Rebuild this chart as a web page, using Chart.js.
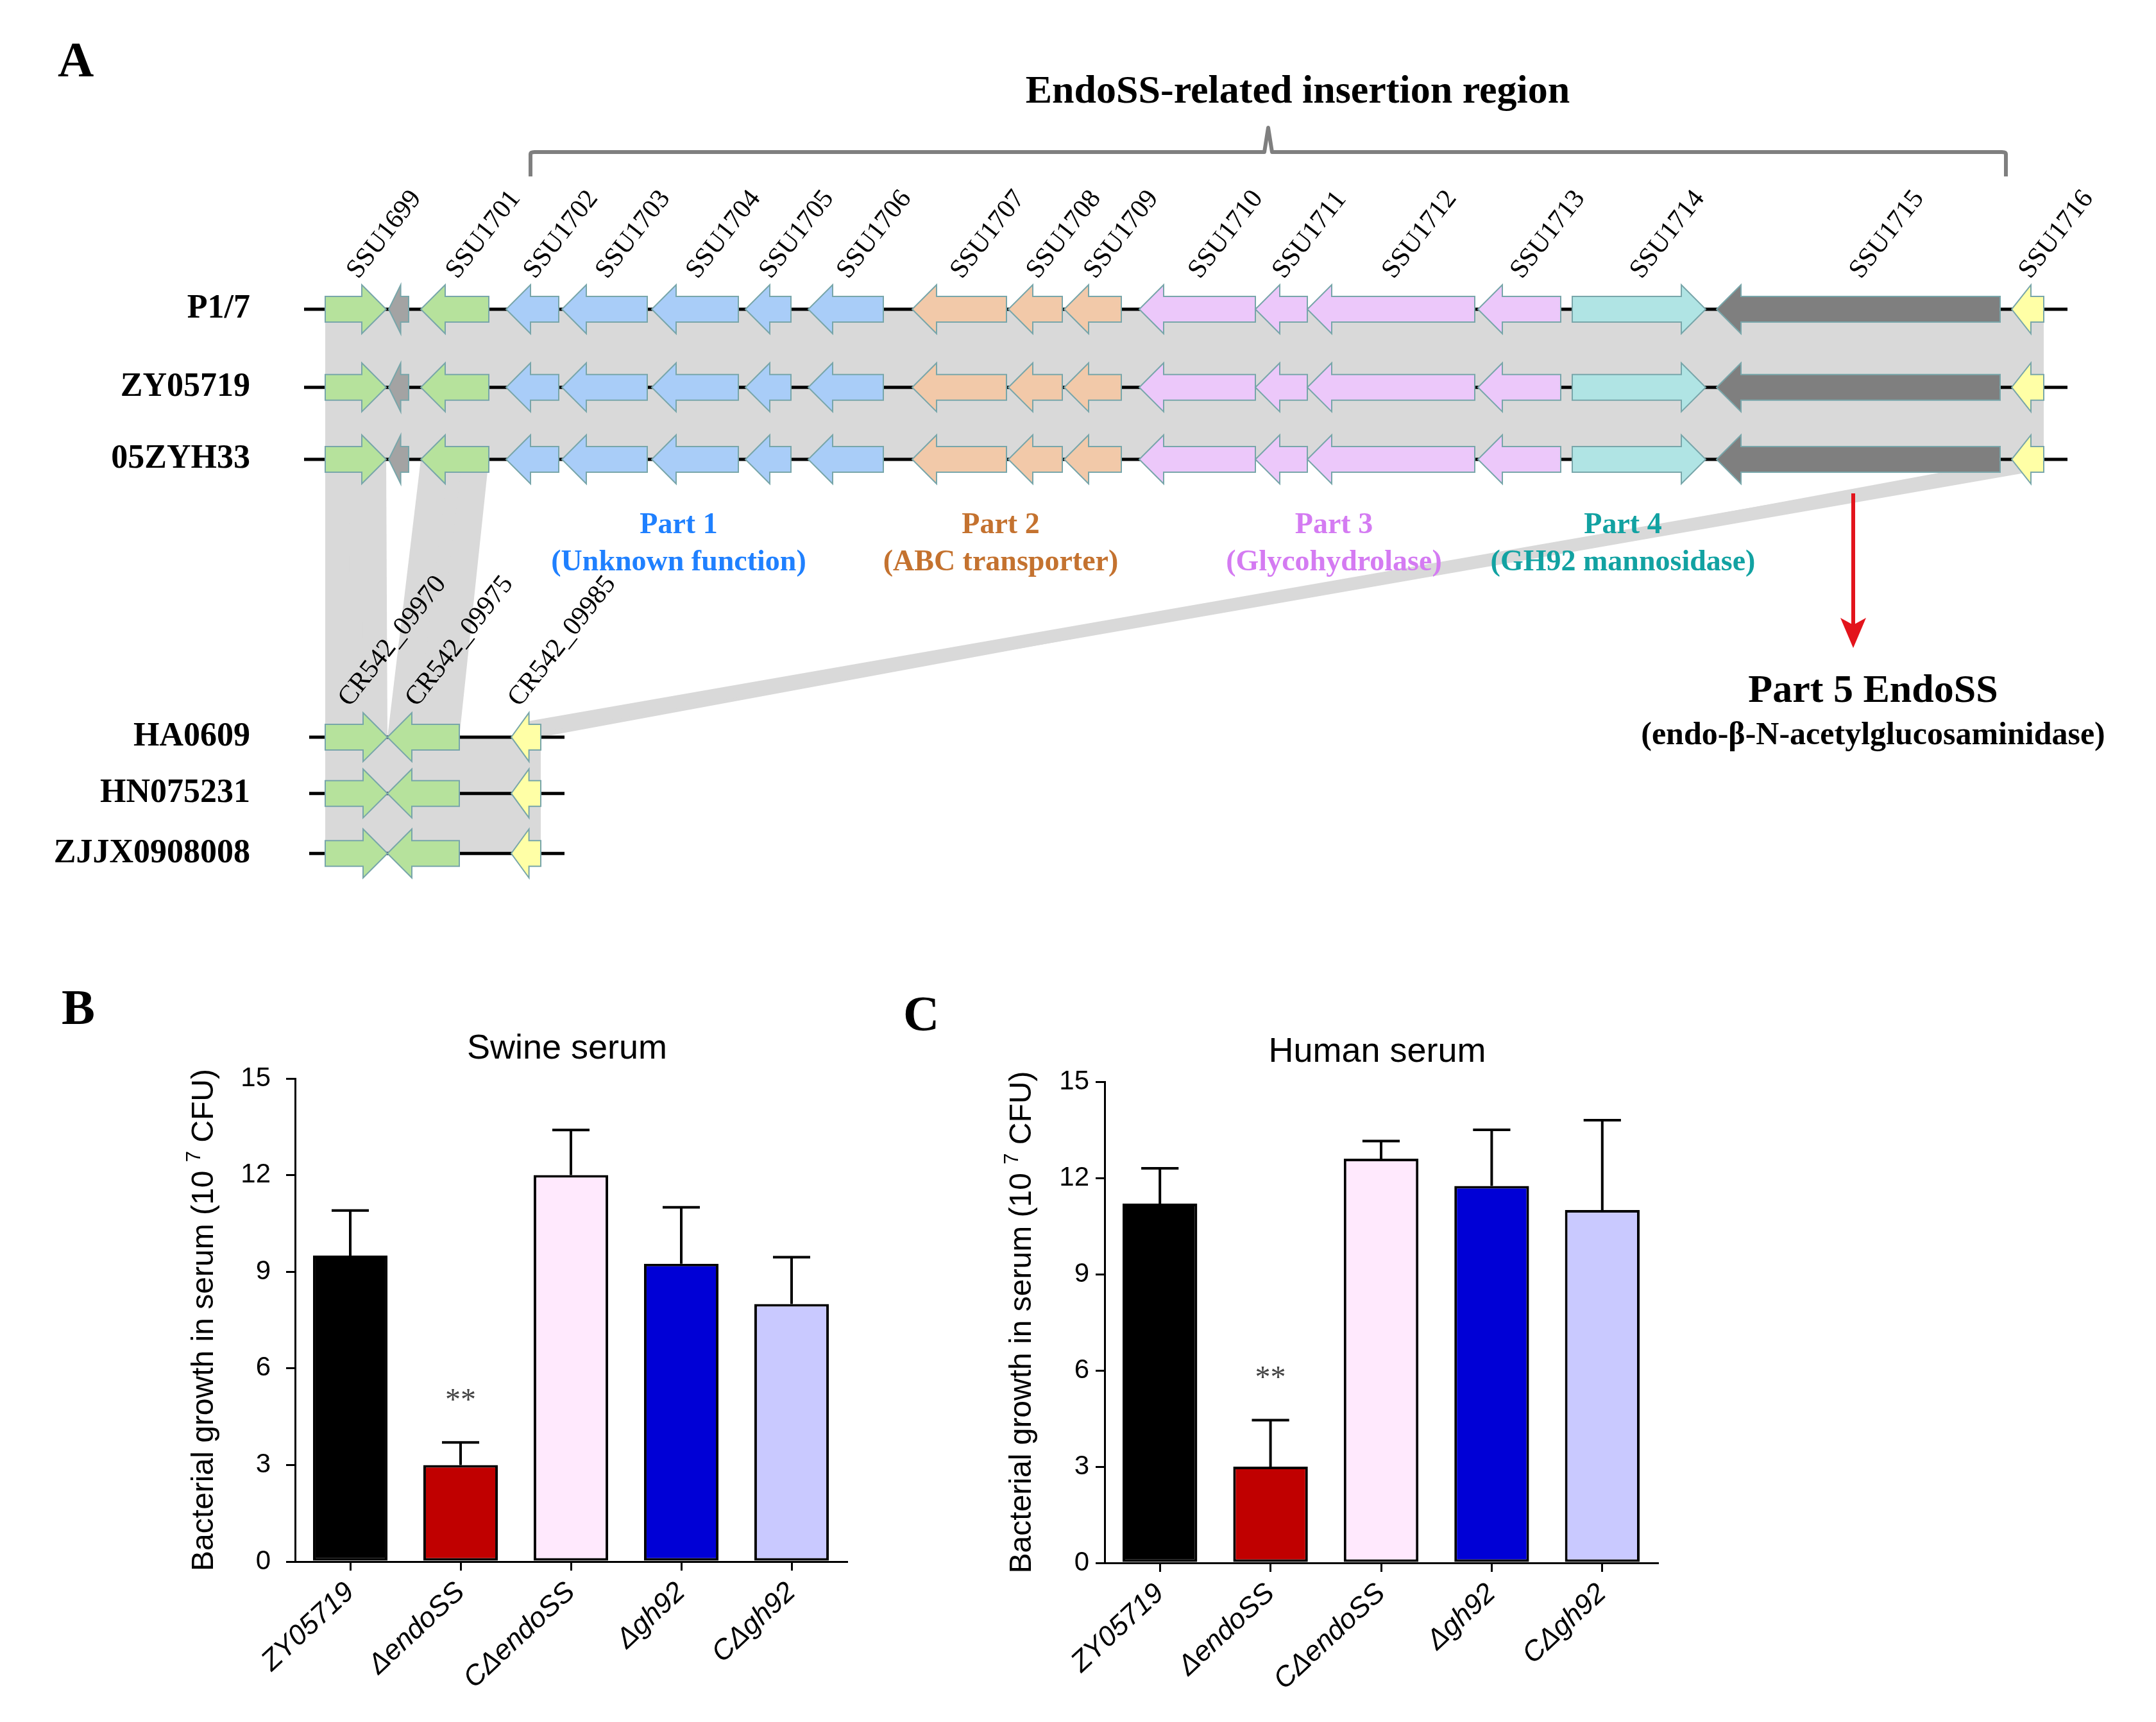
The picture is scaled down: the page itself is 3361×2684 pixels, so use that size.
<!DOCTYPE html>
<html>
<head>
<meta charset="utf-8">
<script src="https://cdn.jsdelivr.net/npm/chart.js@4.4.1/dist/chart.umd.min.js"></script>
<style>
    html, body { margin: 0; padding: 0; background: #fff; }
    body { width: 3361px; height: 2684px; position: relative; overflow: hidden; }
    canvas { position: absolute; }
    .tag { position: absolute; font: bold 78px 'Liberation Serif', serif; line-height: 1; color: #000; }
</style>
</head>
<body>
<div class="tag" style="left:90px; top:54px;">A</div>
<div class="tag" style="left:96px; top:1531px;">B</div>
<div class="tag" style="left:1408px; top:1541px;">C</div>

<canvas id="mapChart" width="3361" height="1400" style="left:0; top:0;"></canvas>
<canvas id="swineChart" width="1400" height="1184" style="left:0; top:1500px;"></canvas>
<canvas id="humanChart" width="1300" height="1184" style="left:1400px; top:1500px;"></canvas>

<script>
// ---- Panel A data (positions in kb from the start of SSU1699) ----
const strains = ['P1/7', 'ZY05719', '05ZYH33', 'HA0609', 'HN075231', 'ZJJX0908008'];

const geneNames  = ['SSU1699', '', 'SSU1701', 'SSU1702', 'SSU1703', 'SSU1704', 'SSU1705', 'SSU1706',
                    'SSU1707', 'SSU1708', 'SSU1709', 'SSU1710', 'SSU1711', 'SSU1712', 'SSU1713',
                    'SSU1714', 'SSU1715', 'SSU1716'];
const geneStart  = [0.00, 0.99, 1.49, 2.82, 3.69, 5.09, 6.55, 7.53, 9.15, 10.65, 11.52, 12.69, 14.50, 15.31, 17.97, 19.44, 21.69, 26.29];
const geneEnd    = [0.95, 1.30, 2.55, 3.64, 5.02, 6.44, 7.26, 8.70, 10.62, 11.49, 12.41, 14.50, 15.31, 17.92, 19.26, 21.52, 26.11, 26.79];
const geneStrand = [1, -1, -1, -1, -1, -1, -1, -1, -1, -1, -1, -1, -1, -1, -1, 1, -1, -1];
const geneGroup  = ['flank', 'small', 'flank', 'p1', 'p1', 'p1', 'p1', 'p1', 'p2', 'p2', 'p2',
                    'p3', 'p3', 'p3', 'p3', 'p4', 'p5', 'tail'];

const shortNames  = ['CR542_09970', 'CR542_09975', 'CR542_09985'];
const shortStart  = [0.00, 0.97, 2.90];
const shortEnd    = [0.97, 2.09, 3.36];
const shortStrand = [1, -1, -1];
const shortGroup  = ['flank', 'flank', 'tail'];

const backboneLong  = [-0.33, 27.16];
const backboneShort = [-0.25, 3.73];

const links = [['SSU1699', 'CR542_09970'], ['SSU1701', 'CR542_09975'], ['SSU1716', 'CR542_09985']];
const insertionRegion = [3.2, 26.2];

const partGroups = ['p1', 'p2', 'p3', 'p4'];
const partTitles = ['Part 1', 'Part 2', 'Part 3', 'Part 4'];
const partDescs  = ['(Unknown function)', '(ABC transporter)', '(Glycohydrolase)', '(GH92 mannosidase)'];

// ---- Panels B / C data ----
const mutants   = ['ZY05719', 'ΔendoSS', 'CΔendoSS', 'Δgh92', 'CΔgh92'];
const swineMean = [9.5, 3.0, 12.0, 9.25, 8.0];
const swineSD   = [1.4, 0.7, 1.4, 1.75, 1.45];
const humanMean = [11.2, 3.0, 12.6, 11.75, 11.0];
const humanSD   = [1.1, 1.45, 0.55, 1.75, 2.8];
const yTicks    = [0, 3, 6, 9, 12, 15];

// ---- layout / style ----
const trackPos = [0, 1.04, 2.0, 5.7, 6.45, 7.25];   // vertical placement of the strain rows
const groupFill = {
    flank: '#b6e29c', small: '#a3a3a3', p1: '#a9cdf8', p2: '#f2c9a9', p3: '#ecc8fa',
    p4: '#b0e4e4', p5: '#7f7f7f', tail: '#ffffa6'
};
const partColor = { p1: '#1f80ff', p2: '#c4722f', p3: '#d47bf2', p4: '#12a2a2' };
const barColors = ['#000000', '#c00000', '#ffe9fd', '#0000d6', '#c9c9ff'];

function drawGene(ctx, x1, x2, y, strand, fill) {
    const bh = 20, hh = 38;
    const hl = Math.min(38, (x2 - x1) * 0.6);
    ctx.beginPath();
    if (strand > 0) {
        ctx.moveTo(x1, y - bh); ctx.lineTo(x2 - hl, y - bh); ctx.lineTo(x2 - hl, y - hh);
        ctx.lineTo(x2, y); ctx.lineTo(x2 - hl, y + hh); ctx.lineTo(x2 - hl, y + bh); ctx.lineTo(x1, y + bh);
    } else {
        ctx.moveTo(x2, y - bh); ctx.lineTo(x1 + hl, y - bh); ctx.lineTo(x1 + hl, y - hh);
        ctx.lineTo(x1, y); ctx.lineTo(x1 + hl, y + hh); ctx.lineTo(x1 + hl, y + bh); ctx.lineTo(x2, y + bh);
    }
    ctx.closePath();
    ctx.fillStyle = fill;
    ctx.fill();
    ctx.lineWidth = 2;
    ctx.strokeStyle = '#78a6aa';
    ctx.stroke();
}

function geneLabel(ctx, text, cx, y) {
    ctx.save();
    ctx.translate(cx + 4, y - 46);
    ctx.rotate(-52 * Math.PI / 180);
    ctx.font = '42px "Liberation Serif"';
    ctx.fillStyle = '#000';
    ctx.textAlign = 'left';
    ctx.textBaseline = 'alphabetic';
    ctx.fillText(text, 0, 0);
    ctx.restore();
}

const geneMap = {
    id: 'geneMap',
    beforeDatasetsDraw(chart) {
        const ctx = chart.ctx, x = chart.scales.x, y = chart.scales.y;
        const row = i => y.getPixelForValue(trackPos[i]);
        ctx.save();
        ctx.fillStyle = '#d9d9d9';
        ctx.strokeStyle = '#d9d9d9';
        // shared block of the three complete genomes
        let a = x.getPixelForValue(Math.min(...geneStart)), b = x.getPixelForValue(Math.max(...geneEnd));
        ctx.fillRect(a, row(0), b - a, row(2) - row(0));
        // shared block of the three short genomes
        a = x.getPixelForValue(Math.min(...shortStart)); b = x.getPixelForValue(Math.max(...shortEnd));
        ctx.fillRect(a, row(3), b - a, row(5) - row(3));
        // homology links 05ZYH33 -> HA0609
        links.forEach(([g1, g2]) => {
            const i = geneNames.indexOf(g1), j = shortNames.indexOf(g2);
            const ax1 = x.getPixelForValue(geneStart[i]), ax2 = x.getPixelForValue(geneEnd[i]);
            const bx1 = x.getPixelForValue(shortStart[j]), bx2 = x.getPixelForValue(shortEnd[j]);
            ctx.beginPath();
            ctx.moveTo(ax1, row(2)); ctx.lineTo(ax2, row(2)); ctx.lineTo(bx2, row(3)); ctx.lineTo(bx1, row(3));
            ctx.closePath();
            ctx.fill();
            ctx.lineWidth = 20;
            ctx.beginPath();
            ctx.moveTo((ax1 + ax2) / 2, row(2) + 10);
            ctx.lineTo((bx1 + bx2) / 2, row(3) - 14);
            ctx.stroke();
        });
        ctx.restore();
    },
    afterDatasetsDraw(chart) {
        const ctx = chart.ctx, x = chart.scales.x, y = chart.scales.y;
        const row = i => y.getPixelForValue(trackPos[i]);
        ctx.save();
        // strain names
        ctx.fillStyle = '#000';
        ctx.font = 'bold 52px "Liberation Serif"';
        ctx.textAlign = 'right';
        ctx.textBaseline = 'middle';
        strains.forEach((s, i) => ctx.fillText(s, 390, row(i)));

        for (let r = 0; r < 3; r++) {
            geneNames.forEach((n, i) => {
                drawGene(ctx, x.getPixelForValue(geneStart[i]), x.getPixelForValue(geneEnd[i]), row(r), geneStrand[i], groupFill[geneGroup[i]]);
            });
        }
        for (let r = 3; r < 6; r++) {
            shortNames.forEach((n, i) => {
                drawGene(ctx, x.getPixelForValue(shortStart[i]), x.getPixelForValue(shortEnd[i]), row(r), shortStrand[i], groupFill[shortGroup[i]]);
            });
        }
        geneNames.forEach((n, i) => {
            if (n) geneLabel(ctx, n, x.getPixelForValue((geneStart[i] + geneEnd[i]) / 2), row(0));
        });
        shortNames.forEach((n, i) => {
            geneLabel(ctx, n, x.getPixelForValue((shortStart[i] + shortEnd[i]) / 2) - 14, row(3));
        });

        // bracket over the insertion region
        const l = x.getPixelForValue(insertionRegion[0]), rr = x.getPixelForValue(insertionRegion[1]);
        const m = (l + rr) / 2, top = row(0);
        ctx.strokeStyle = '#7f7f7f';
        ctx.lineWidth = 6;
        ctx.lineJoin = 'round';
        ctx.beginPath();
        ctx.moveTo(l, top - 207); ctx.lineTo(l, top - 242); ctx.quadraticCurveTo(l, top - 245, l + 6, top - 245);
        ctx.lineTo(m - 6, top - 245); ctx.lineTo(m, top - 283); ctx.lineTo(m + 6, top - 245);
        ctx.lineTo(rr - 6, top - 245); ctx.quadraticCurveTo(rr, top - 245, rr, top - 242); ctx.lineTo(rr, top - 207);
        ctx.stroke();
        ctx.fillStyle = '#000';
        ctx.font = 'bold 62px "Liberation Serif"';
        ctx.textAlign = 'center';
        ctx.textBaseline = 'middle';
        ctx.fillText('EndoSS-related insertion region', m + 46, top - 338);

        // part labels under the gene groups
        const low = row(2);
        partGroups.forEach((g, k) => {
            const idx = geneGroup.map((v, i) => v === g ? i : -1).filter(i => i >= 0);
            const c = (x.getPixelForValue(Math.min(...idx.map(i => geneStart[i]))) +
                       x.getPixelForValue(Math.max(...idx.map(i => geneEnd[i])))) / 2 - 25;
            ctx.fillStyle = partColor[g];
            ctx.font = 'bold 46px "Liberation Serif"';
            ctx.fillText(partTitles[k], c, low + 103);
            ctx.fillText(partDescs[k], c, low + 161);
        });

        // red arrow to EndoSS
        const e = geneNames.indexOf('SSU1715');
        const ex = x.getPixelForValue((geneStart[e] + geneEnd[e]) / 2) - 8;
        ctx.strokeStyle = '#e3141c';
        ctx.fillStyle = '#e3141c';
        ctx.lineWidth = 6;
        ctx.beginPath();
        ctx.moveTo(ex, low + 53); ctx.lineTo(ex, low + 270);
        ctx.stroke();
        ctx.beginPath();
        ctx.moveTo(ex, low + 294); ctx.lineTo(ex - 20, low + 247); ctx.lineTo(ex, low + 258); ctx.lineTo(ex + 20, low + 247);
        ctx.closePath();
        ctx.fill();
        ctx.fillStyle = '#000';
        ctx.font = 'bold 62px "Liberation Serif"';
        ctx.fillText('Part 5 EndoSS', ex + 31, low + 362);
        ctx.font = 'bold 50px "Liberation Serif"';
        ctx.fillText('(endo-β-N-acetylglucosaminidase)', ex + 31, low + 431);
        ctx.restore();
    }
};

let mapCtx = document.getElementById('mapChart').getContext('2d');
let mapChart = new Chart(mapCtx, {
    type: 'scatter',
    data: {
        datasets: strains.map((s, i) => {
            const bb = i < 3 ? backboneLong : backboneShort;
            return {
                label: s,
                data: [{ x: bb[0], y: trackPos[i] }, { x: bb[1], y: trackPos[i] }],
                showLine: true,
                borderColor: '#000',
                borderWidth: 5,
                pointRadius: 0
            };
        })
    },
    options: {
        responsive: false,
        animation: false,
        layout: { padding: 0 },
        plugins: { legend: { display: false }, tooltip: { enabled: false } },
        scales: {
            x: { type: 'linear', min: -5.07, max: 28.54, display: false },
            y: { type: 'linear', reverse: true, min: -4.12, max: 7.846, display: false }
        }
    },
    plugins: [geneMap]
});

// ---- bar charts ----
function barDecor(title, means, sds, yTitleX) {
    return {
        id: 'barDecor',
        afterDatasetsDraw(chart) {
            const ctx = chart.ctx, area = chart.chartArea, y = chart.scales.y;
            const meta = chart.getDatasetMeta(0);
            ctx.save();
            ctx.strokeStyle = '#000';
            ctx.lineWidth = 4;
            meta.data.forEach((bar, i) => {
                const top = y.getPixelForValue(means[i] + sds[i]);
                const w = bar.width / 4;
                ctx.beginPath();
                ctx.moveTo(bar.x, bar.y); ctx.lineTo(bar.x, top);
                ctx.moveTo(bar.x - w, top); ctx.lineTo(bar.x + w, top);
                ctx.stroke();
            });
            // significance mark on the deletion mutant
            const b = meta.data[1];
            ctx.fillStyle = '#444';
            ctx.font = '48px "Liberation Serif"';
            ctx.textAlign = 'center';
            ctx.textBaseline = 'middle';
            ctx.fillText('**', b.x, y.getPixelForValue(means[1] + sds[1] + 1.4) + 6);

            ctx.fillStyle = '#000';
            ctx.font = '54px "Liberation Sans"';
            ctx.fillText(title, (area.left + area.right) / 2 - 6, area.top - 46);

            // y axis title with superscript
            ctx.translate(yTitleX, (area.top + area.bottom) / 2);
            ctx.rotate(-Math.PI / 2);
            const p1 = 'Bacterial growth in serum (10 ', p2 = '7', p3 = ' CFU)';
            const big = '48px "Liberation Sans"', small = '31px "Liberation Sans"';
            ctx.font = big; const w1 = ctx.measureText(p1).width, w3 = ctx.measureText(p3).width;
            ctx.font = small; const w2 = ctx.measureText(p2).width;
            let sx = -(w1 + w2 + w3) / 2;
            ctx.textAlign = 'left';
            ctx.textBaseline = 'alphabetic';
            ctx.font = big; ctx.fillText(p1, sx, 17);
            ctx.font = small; ctx.fillText(p2, sx + w1, -3);
            ctx.font = big; ctx.fillText(p3, sx + w1 + w2, 17);
            ctx.restore();
        }
    };
}

function barConfig(means, sds, title, pad, yWidth, xHeight, tickPad, yTitleX) {
    return {
        type: 'bar',
        data: {
            labels: mutants,
            datasets: [{
                data: means,
                backgroundColor: barColors,
                borderColor: '#000',
                borderWidth: 4,
                borderSkipped: false,
                barPercentage: 0.675,
                categoryPercentage: 1
            }]
        },
        options: {
            responsive: false,
            animation: false,
            layout: { padding: pad },
            plugins: { legend: { display: false }, tooltip: { enabled: false } },
            scales: {
                x: {
                    afterFit: s => { s.height = xHeight; },
                    grid: { drawOnChartArea: false, offset: false, tickLength: 14, color: '#000', lineWidth: 3 },
                    border: { color: '#000', width: 3 },
                    ticks: {
                        minRotation: 43, maxRotation: 43, padding: 8, color: '#000',
                        font: { family: 'Liberation Sans', size: 44, style: 'italic' }
                    }
                },
                y: {
                    min: yTicks[0], max: yTicks[yTicks.length - 1],
                    afterFit: s => { s.width = yWidth; },
                    afterBuildTicks: s => { s.ticks = yTicks.map(v => ({ value: v })); },
                    grid: { drawOnChartArea: false, tickLength: 14, color: '#000', lineWidth: 3 },
                    border: { color: '#000', width: 3 },
                    ticks: { padding: tickPad, color: '#000', font: { family: 'Liberation Sans', size: 42 } }
                }
            }
        },
        plugins: [barDecor(title, means, sds, yTitleX)]
    };
}

let swineCtx = document.getElementById('swineChart').getContext('2d');
let swineChart = new Chart(swineCtx, barConfig(swineMean, swineSD, 'Swine serum',
    { top: 181, right: 80, left: 0, bottom: 0 }, 460, 250, 24, 315));

let humanCtx = document.getElementById('humanChart').getContext('2d');
let humanChart = new Chart(humanCtx, barConfig(humanMean, humanSD, 'Human serum',
    { top: 186, right: 116, left: 0, bottom: 0 }, 322, 248, 10, 190));
</script>
</body>
</html>
